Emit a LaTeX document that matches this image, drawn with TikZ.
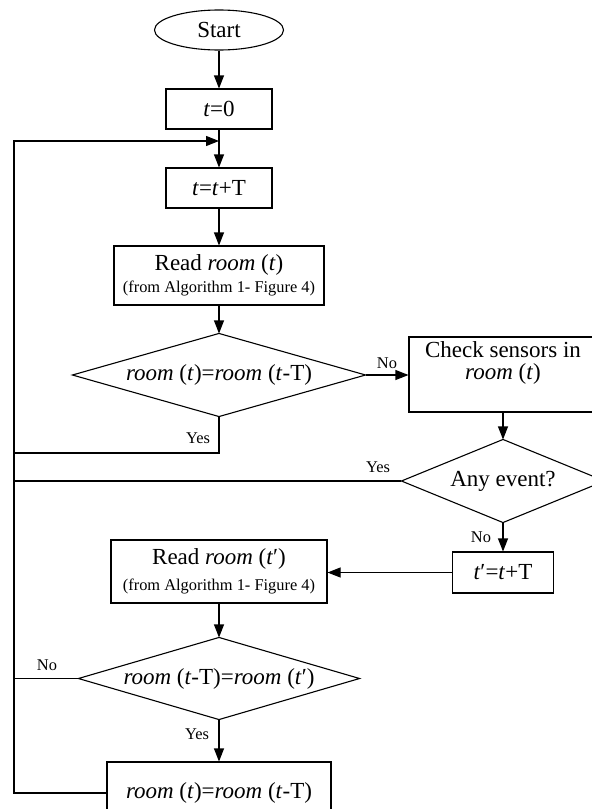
\documentclass[tikz,border=0pt]{standalone}
\usepackage{fontspec}
\setmainfont{Liberation Serif}
\usetikzlibrary{shapes.geometric,arrows.meta}
\newcommand{\mainsz}{\fontsize{11.5}{11}\selectfont}
\newcommand{\smallsz}{\fontsize{8.2}{9}\selectfont}
\begin{document}
\begin{tikzpicture}[x=0.5pt,y=-0.5pt,
  line width=0.55pt,
  box/.style={draw, rectangle, inner sep=0pt, align=center, font=\mainsz},
  decision/.style={rectangle, inner sep=0pt, align=center, font=\mainsz},
  lbl/.style={inner sep=0pt, font=\smallsz},
  arr/.style={-{Triangle[length=6.5pt,width=5pt]}}]
\useasboundingbox (0,0) rectangle (592,809);
\clip (0,0) rectangle (592,809);
% nodes
\node[draw, ellipse, inner sep=0pt, minimum width=64.5pt, minimum height=20pt, font=\mainsz] (start) at (219,30) {Start};
\node[box, minimum width=53pt, minimum height=20pt] (t0) at (219,109) {\textit{t}=0};
\node[box, minimum width=53pt, minimum height=20pt] (tT) at (219,188) {\textit{t}=\textit{t}+T};
\node[box, minimum width=105pt, minimum height=29.5pt] (read1) at (219,275.5)
  {Read \textit{room} (\textit{t})\\{\smallsz (from Algorithm 1- Figure 4)}};
\node[decision, minimum width=146pt, minimum height=41pt] (d1) at (219,375)
  {\textit{room} (\textit{t})=\textit{room} (\textit{t}-T)};
\draw (d1.west) -- (d1.north) -- (d1.east) -- (d1.south) -- cycle;
\node[box, minimum width=94pt, minimum height=37.5pt] (check) at (503,374.5)
  {Check sensors in\\\textit{room} (\textit{t})\\[3pt]\mbox{}};
\node[decision, minimum width=101pt, minimum height=41pt] (d2) at (503,481)
  {Any event?};
\draw (d2.west) -- (d2.north) -- (d2.east) -- (d2.south) -- cycle;
\node[box, minimum width=50.5pt, minimum height=20.5pt] (tp) at (503,572.5)
  {\textit{t}′=\textit{t}+T};
\node[box, minimum width=108pt, minimum height=31.5pt] (read2) at (219,571.5)
  {Read \textit{room} (\textit{t}′)\\[2pt]{\smallsz (from Algorithm 1- Figure 4)}};
\node[decision, minimum width=140pt, minimum height=40.5pt] (d3) at (219,678.5)
  {\textit{room} (\textit{t}-T)=\textit{room} (\textit{t}′)};
\draw (d3.west) -- (d3.north) -- (d3.east) -- (d3.south) -- cycle;
\node[box, minimum width=112pt, minimum height=31pt] (final) at (219,793)
  {\textit{room} (\textit{t})=\textit{room} (\textit{t}-T)};
% coordinates
\coordinate (railTop) at (14,141);
\coordinate (join) at (219,141);
\coordinate (y1) at (219,453);
% connectors
\draw[arr] (start.south) -- (t0.north);
\draw[arr] (t0.south) -- (tT.north);
\draw[arr] (tT.south) -- (read1.north);
\draw[arr] (read1.south) -- (d1.north);
\draw[arr] (d1.east) -- (d1.east -| check.west);
\draw[arr] (check.south) -- (d2.north);
\draw[arr] (d2.south) -- (tp.north);
\draw[arr] (tp.west) -- (tp.west -| read2.east);
\draw[arr] (read2.south) -- (d3.north);
\draw[arr] (d3.south) -- (final.north);
\draw (d1.south) -- (y1) -- (y1 -| railTop);
\draw (d2.west) -- (d2.west -| railTop);
\draw (d3.west) -- (d3.west -| railTop);
\draw[arr] (final.west) -| (railTop) -- (join);
% labels
\node[lbl] (lno1) at (387,363) {No};
\node[lbl] (lyes1) at (198,438) {Yes};
\node[lbl] (lyes2) at (378,467) {Yes};
\node[lbl] (lno2) at (481,537) {No};
\node[lbl] (lno3) at (47,665) {No};
\node[lbl] (lyes3) at (197,734) {Yes};
\end{tikzpicture}
\end{document}
